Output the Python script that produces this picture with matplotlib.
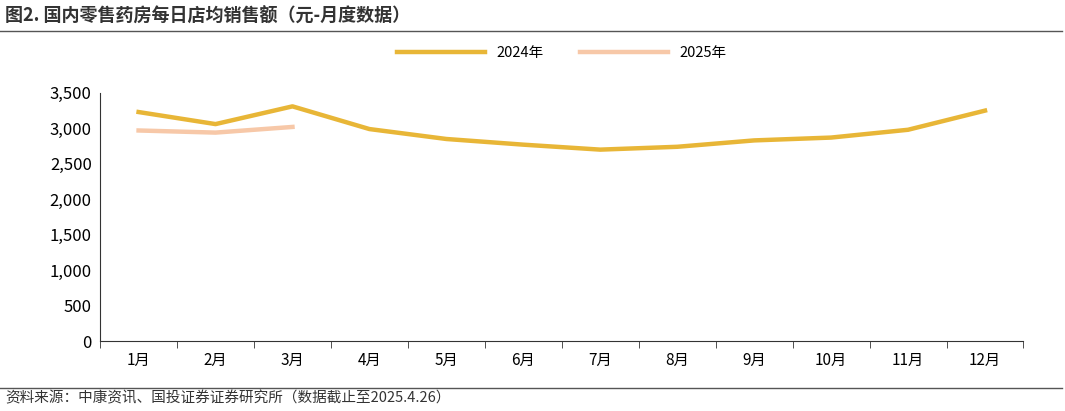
import matplotlib
matplotlib.use("Agg")
import matplotlib.pyplot as plt

plt.rcParams['font.family'] = ['Noto Sans CJK SC', 'DejaVu Sans']

months = ['1月','2月','3月','4月','5月','6月','7月','8月','9月','10月','11月','12月']
s2024 = [3230, 3060, 3310, 2990, 2850, 2770, 2700, 2740, 2830, 2870, 2980, 3250]
s2025 = [2970, 2940, 3020]
yticks = [0, 500, 1000, 1500, 2000, 2500, 3000, 3500]

fig = plt.figure(figsize=(10.65, 4.11), dpi=100)
ax = fig.add_axes([0.094, 0.170, 0.867, 0.604])
x = list(range(len(months)))
ax.plot(x, s2024, color='#E8B637', lw=3.2, label='2024年')
ax.plot(x[:len(s2025)], s2025, color='#F7C8A8', lw=3.2, label='2025年')
ax.set_xlim(-0.5, len(months) - 0.5)
ax.set_ylim(0, 3500)
ax.set_yticks(yticks)
ax.set_yticklabels([f'{v:,}' for v in yticks], fontsize=12)
ax.set_xticks(x)
ax.set_xticklabels(months, fontsize=11)
ax.set_xticks([i + 0.5 for i in range(-1, len(months))], minor=True)
ax.tick_params(axis='x', which='major', length=0, pad=8)
ax.tick_params(axis='x', which='minor', length=5, color='#333333')
ax.tick_params(axis='y', length=0, pad=6)
for s in ['top', 'right']:
    ax.spines[s].set_visible(False)
ax.spines['left'].set_color('#333333')
ax.spines['bottom'].set_color('#333333')
ax.legend(loc='upper center', bbox_to_anchor=(0.5, 1.24), ncol=2, frameon=False,
          fontsize=10.5, handlelength=6, columnspacing=2.5)

fig.text(0.005, 0.96, '图2. 国内零售药房每日店均销售额（元-月度数据）', fontsize=13,
         fontweight='bold', ha='left', va='center', color='#333333')
fig.add_artist(plt.Line2D([0.0, 0.997], [0.925, 0.925], color='#555555', lw=1))
fig.add_artist(plt.Line2D([0.0, 0.997], [0.055, 0.055], color='#555555', lw=1))
fig.text(0.005, 0.03, '资料来源：中康资讯、国投证券证券研究所（数据截止至2025.4.26）', fontsize=10.5,
         style='italic', ha='left', va='center', color='#333333')
fig.savefig('out.png', dpi=100)
